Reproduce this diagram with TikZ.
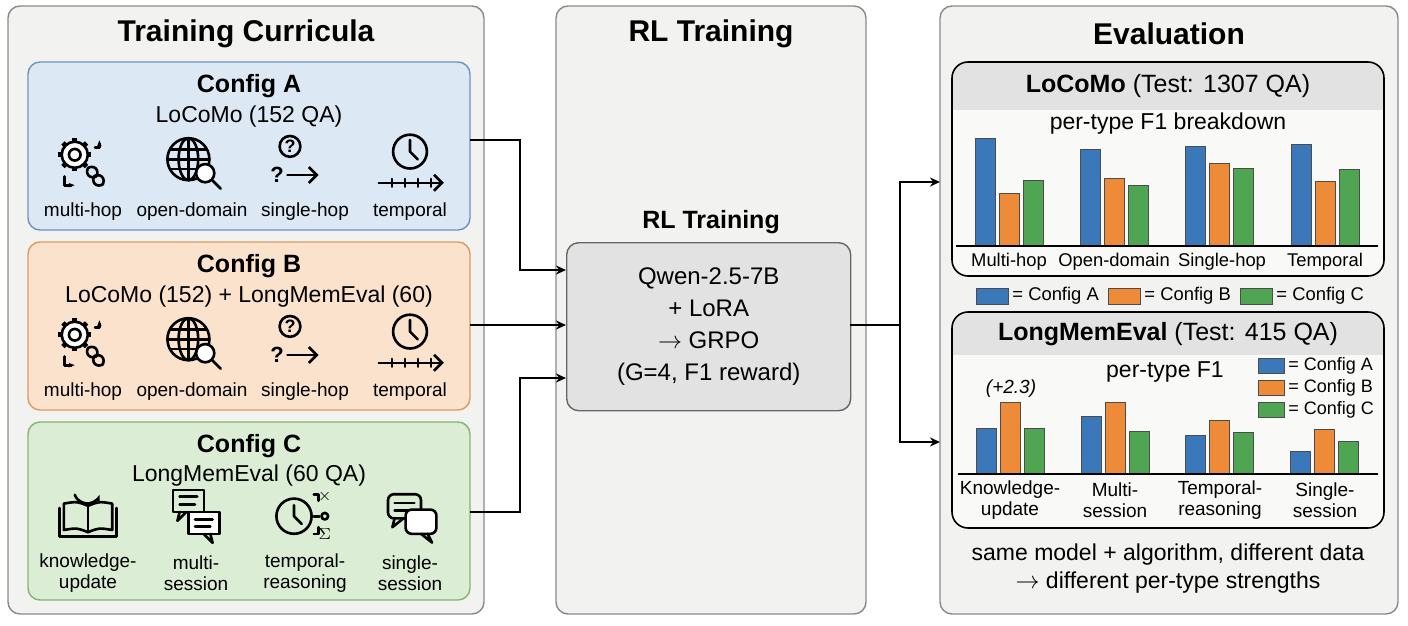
\documentclass[tikz,border=0pt]{standalone}
\usepackage{fontspec}
\setmainfont{Liberation Sans}
\usetikzlibrary{arrows.meta,calc}
\definecolor{pbg}{HTML}{F2F2F1}
\definecolor{pbd}{HTML}{8A8A8A}
\definecolor{afill}{HTML}{DCE8F4}\definecolor{adraw}{HTML}{6E93C2}
\definecolor{bfill}{HTML}{FBE2CC}\definecolor{bdraw}{HTML}{DD9A5E}
\definecolor{cfill}{HTML}{DCEDD5}\definecolor{cdraw}{HTML}{84B572}
\definecolor{cA}{HTML}{3B78B9}\definecolor{cB}{HTML}{EE8B38}\definecolor{cC}{HTML}{4FA552}
\definecolor{hdr}{HTML}{E2E2E2}
\tikzset{
 panel/.style={draw=pbd,fill=pbg,rounded corners=6pt,line width=0.7pt},
 cfg/.style={rounded corners=6pt,line width=0.7pt},
 ptitle/.style={font=\fontsize{15}{17}\selectfont\bfseries},
 big/.style={font=\fontsize{11.5}{13}\selectfont},
 bigb/.style={font=\fontsize{12.5}{14}\selectfont\bfseries},
 lab/.style={font=\fontsize{9.5}{10.5}\selectfont,align=center},
 blab/.style={font=\fontsize{9.5}{10.5}\selectfont,align=center},
 conn/.style={line width=0.9pt,-{Stealth[length=5pt,width=4.5pt]}},
 line/.style={line width=0.9pt},
 ic/.style={line width=1.3pt,line cap=round,line join=round},
 bar/.style={draw=black!70,line width=0.4pt},
}
\newcommand{\icGear}[2]{\begin{scope}[shift={(#1,#2)},ic,scale=1.45]
 \foreach \a in {0,45,...,315}{\draw[line width=2.4pt,line cap=butt] ($(-5,-5)+(\a:8)$) -- ($(-5,-5)+(\a:11.5)$);}
 \draw[fill=white] (-5,-5) circle (9);\draw (-5,-5) circle (4);
 \draw[rounded corners=3pt,rotate around={-45:(6,8)}] (2,3) rectangle (10,10);
 \draw[rounded corners=3pt,rotate around={-45:(11,13)}] (7,9) rectangle (15,16);
 \draw[-{Stealth[length=3pt]}] (9,-10) -- (12,-10) -- (12,-15);
 \draw[-{Stealth[length=3pt]}] (-12,10) -- (-12,16) -- (-5,16);
\end{scope}}
\newcommand{\icGlobe}[2]{\begin{scope}[shift={(#1,#2)},ic,scale=1.4]
 \draw (-4,-2) circle (15); \draw (-4,-2) ellipse (7 and 15); \draw (-19,-2) -- (11,-2);
 \draw (-17,-9)--(9,-9); \draw (-17,5)--(9,5); \draw (-4,-17)--(-4,13);
 \draw[fill=white] (8,8) circle (6.5); \draw (13,13) -- (19,19);
\end{scope}}
\newcommand{\icQ}[2]{\begin{scope}[shift={(#1,#2)},ic,scale=1.3]
 \draw (0,-12) circle (8); \node[font=\fontsize{9}{9}\selectfont\bfseries] at (0,-12) {?};
 \node[font=\fontsize{11}{11}\selectfont\bfseries] at (-10,10) {?};
 \draw[-{Straight Barb[length=4pt]}] (-2,10) -- (22,10);
\end{scope}}
\newcommand{\icClock}[2]{\begin{scope}[shift={(#1,#2)},ic,scale=1.3]
 \draw (0,-8) circle (13); \draw (0,-17) -- (0,-8) -- (6,-2);
 \draw[-{Straight Barb[length=4pt]}] (-24,16) -- (26,16);
 \foreach \x in {-14,-4,6,16} \draw (\x,13)--(\x,19);
\end{scope}}
\newcommand{\icBook}[2]{\begin{scope}[shift={(#1,#2)},ic,scale=1.1]
 \draw (0,-2) -- (0,22); \draw (0,-2) .. controls (-10,-6) .. (-22,-4) -- (-22,20) .. controls (-10,18) .. (0,22);
 \draw (0,-2) .. controls (10,-6) .. (22,-4) -- (22,20) .. controls (10,18) .. (0,22);
 \draw (-26,0) -- (-26,26) -- (26,26) -- (26,0);
 \draw[-{Stealth[length=4pt]}] (-12,-12) arc (160:20:12);
\end{scope}}
\newcommand{\icChat}[2]{\begin{scope}[shift={(#1,#2)},ic,scale=1.1]
 \draw (-20,-20) rectangle (8,0); \draw (-14,0) -- (-16,8) -- (-8,0);
 \draw (-14,-14)--(2,-14); \draw (-14,-7)--(0,-7);
 \draw[fill=white] (-6,0) rectangle (22,20); \draw (14,20) -- (16,28) -- (8,20);
 \draw (0,7)--(16,7); \draw (0,13)--(14,13);
\end{scope}}
\newcommand{\icClockList}[2]{\begin{scope}[shift={(#1,#2)},ic,scale=1.1]
 \draw (-10,2) circle (16); \draw (-10,-8) -- (-10,2) -- (-3,9);
 \node[font=\fontsize{8}{8}\selectfont\bfseries] at (18,-16) {$\times$};
 \draw (18,2) circle (3); \node[font=\fontsize{8}{8}\selectfont\bfseries] at (18,18) {$\Sigma$};
 \draw (8,-18)--(12,-18)--(12,-12); \draw (8,2)--(13,2); \draw (8,18)--(12,18)--(12,12);
\end{scope}}
\newcommand{\icBubbles}[2]{\begin{scope}[shift={(#1,#2)},ic,scale=1.1]
 \draw[rounded corners=3pt] (-20,-18) rectangle (10,4); \draw (-14,4) -- (-16,12) -- (-6,4);
 \draw (-14,-10)--(4,-10); \draw (-14,-3)--(0,-3);
 \draw[fill=white,rounded corners=3pt] (-4,-4) rectangle (24,18); \draw (16,18) -- (20,26) -- (10,18);
\end{scope}}
\begin{document}
\begin{tikzpicture}[x=0.5pt,y=-0.5pt]
\useasboundingbox (0,0) rectangle (1408,626);
\fill[white] (0,0) rectangle (1408,626);
\draw[panel] (8,6) rectangle (484,614);
\draw[panel] (556,6) rectangle (866,614);
\draw[panel] (940,6) rectangle (1398,614);
\node[ptitle] (t1) at (246,34) {Training Curricula};
\node[ptitle] (t2) at (711,34) {RL Training};
\node[ptitle] (t3) at (1169,34) {Evaluation};
\draw[cfg,fill=afill,draw=adraw] (28,62) rectangle (470,230);
\coordinate (A) at (470,140);
\node[bigb] at (249,86) {Config A};
\node[big] at (249,117) {LoCoMo (152 QA)};
\icGear{82}{162}\icGlobe{194}{162}\icQ{290}{162}\icClock{410}{162}
\foreach \x/\t in {83/multi-hop,192/open-domain,305/single-hop,410/temporal}\node[lab] at (\x,212){\t};
\draw[cfg,fill=bfill,draw=bdraw] (28,242) rectangle (470,410);
\coordinate (B) at (470,325);
\node[bigb] at (249,266) {Config B};
\node[big] at (249,297) {LoCoMo (152) + LongMemEval (60)};
\icGear{82}{342}\icGlobe{194}{342}\icQ{290}{342}\icClock{410}{342}
\foreach \x/\t in {83/multi-hop,192/open-domain,305/single-hop,410/temporal}\node[lab] at (\x,392){\t};
\draw[cfg,fill=cfill,draw=cdraw] (28,422) rectangle (470,600);
\coordinate (C) at (470,512);
\node[bigb] at (249,446) {Config C};
\node[big] at (249,476) {LongMemEval (60 QA)};
\icBook{88}{508}\icChat{195}{512}\icClockList{305}{514}\icBubbles{410}{514}
\node[lab] at (88,573) {knowledge-\\update};
\node[lab] at (196,573) {multi-\\session};
\node[lab] at (305,573) {temporal-\\reasoning};
\node[lab] at (410,573) {single-\\session};
\node[bigb] at (711,222) {RL Training};
\node[draw=black!60,fill=hdr,rounded corners=6pt,line width=0.7pt,minimum width=142pt,minimum height=84pt,anchor=north west] (rl) at (566,242) {};
\node[align=center,font=\fontsize{12}{16}\selectfont] at (rl.center) {Qwen-2.5-7B\\+ LoRA\\$\rightarrow$ GRPO\\(G=4, F1 reward)};
\coordinate (rlA) at (566,270);\coordinate (rlB) at (566,325);\coordinate (rlC) at (566,378);
\draw[conn] (A) -| (520,270) -- (rlA);
\draw[conn] (B) -- (rlB);
\draw[conn] (C) -| (520,378) -- (rlC);
\coordinate (o) at (850,325);\coordinate (e1) at (940,182);\coordinate (e2) at (940,442);
\draw[line] (o) -- (900,325);
\draw[conn] (900,325) |- (e1);
\draw[conn] (900,325) |- (e2);
\begin{scope}
\clip[rounded corners=8pt] (952,62) rectangle (1384,276);
\fill[white!50!pbg] (952,62) rectangle (1384,276);
\fill[hdr] (952,62) rectangle (1384,110);
\end{scope}
\draw[rounded corners=8pt,line width=0.8pt] (952,62) rectangle (1384,276);
\node[font=\fontsize{12.5}{14}\selectfont] at (1168,86) {\textbf{LoCoMo} (Test: 1307 QA)};
\node[big] at (1168,124) {per-type F1 breakdown};
\foreach \x/\a/\b/\c in {975/138/193/180,1080/149/178/185,1185/146/163/168,1291/144/181/169}{
 \draw[bar,fill=cA] (\x,246) rectangle ++(20,\a-246);
 \draw[bar,fill=cB] (\x+24,246) rectangle ++(20,\b-246);
 \draw[bar,fill=cC] (\x+48,246) rectangle ++(20,\c-246);}
\draw[line width=0.6pt] (956,246) -- (1378,246);
\foreach \x/\t in {1009/Multi-hop,1114/Open-domain,1222/Single-hop,1325/Temporal}\node[blab,font=\fontsize{9.2}{10}\selectfont] at (\x,262){\t};
\foreach \x/\c/\t in {976/cA/A,1108/cB/B,1240/cC/C}{
 \draw[bar,fill=\c] (\x,288) rectangle ++(32,16);
 \node[blab,font=\fontsize{9.2}{10}\selectfont,anchor=west,inner sep=1pt] at (\x+34,296) {= Config \t};}
\begin{scope}
\clip[rounded corners=8pt] (952,312) rectangle (1384,528);
\fill[white!50!pbg] (952,312) rectangle (1384,528);
\fill[hdr] (952,312) rectangle (1384,355);
\end{scope}
\draw[rounded corners=8pt,line width=0.8pt] (952,312) rectangle (1384,528);
\node[font=\fontsize{12.5}{14}\selectfont] at (1168,334) {\textbf{LongMemEval} (Test: 415 QA)};
\node[big] at (1165,372) {per-type F1};
\foreach \y/\c/\t in {358/cA/A,380/cB/B,402/cC/C}{
 \draw[bar,fill=\c] (1258,\y) rectangle ++(26,15);
 \node[font=\fontsize{9}{10}\selectfont,anchor=west,inner sep=1pt] at (1286,\y+7.5) {= Config \t};}
\foreach \x/\a/\b/\c in {976/428/402/428,1081/416/402/431,1185/435/420/432,1290/451/429/441}{
 \draw[bar,fill=cA] (\x,474) rectangle ++(20,\a-474);
 \draw[bar,fill=cB] (\x+24,474) rectangle ++(20,\b-474);
 \draw[bar,fill=cC] (\x+48,474) rectangle ++(20,\c-474);}
\draw[line width=0.6pt] (958,474) -- (1378,474);
\node[font=\fontsize{9.5}{10}\selectfont\itshape] at (1011,389) {(+2.3)};
\node[blab] at (1010,500) {Knowledge-\\update};
\node[blab] at (1115,500) {Multi-\\session};
\node[blab] at (1220,500) {Temporal-\\reasoning};
\node[blab] at (1325,500) {Single-\\session};
\node[align=center,font=\fontsize{11.5}{14}\selectfont] at (1168,569) {same model + algorithm, different data\\$\rightarrow$ different per-type strengths};
\end{tikzpicture}
\end{document}
